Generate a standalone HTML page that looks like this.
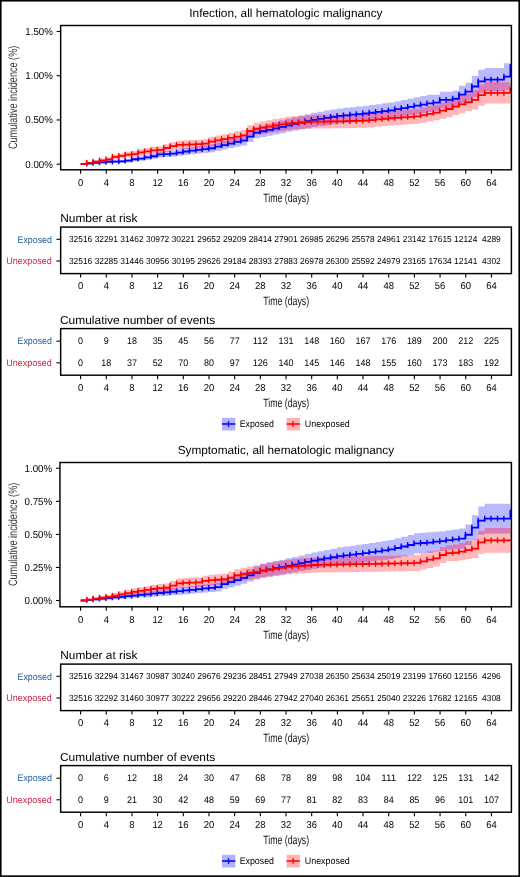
<!DOCTYPE html>
<html><head><meta charset="utf-8"><style>
html,body{margin:0;padding:0;background:#fff;}
svg{display:block;will-change:transform;}
text{font-family:"Liberation Sans", sans-serif;text-rendering:geometricPrecision;}
</style></head><body>
<svg width="520" height="877" viewBox="0 0 520 877">
<defs><clipPath id="c0"><rect x="60.65" y="25.5" width="450.75" height="144.3"/></clipPath>
<clipPath id="c1"><rect x="60.65" y="462.5" width="450.75" height="144.3"/></clipPath></defs>
<rect x="0" y="0" width="520" height="877" fill="#fff"/>
<rect x="0.8" y="0.75" width="518.4" height="875.4" fill="none" stroke="#000" stroke-width="1.6"/>
<text x="285.9" y="17.3" font-size="11.7" text-anchor="middle" textLength="193.2" lengthAdjust="spacingAndGlyphs" fill="#000">Infection, all hematologic malignancy</text>
<text x="0" y="0" font-size="12.2" text-anchor="middle" fill="#333" transform="translate(17.2,97.4) rotate(-90)" textLength="103.4" lengthAdjust="spacingAndGlyphs">Cumulative incidence (%)</text>
<g clip-path="url(#c0)"><clipPath id="bb0"><path d="M80.60,164.20H86.70V162.88H93.12V161.97H99.54V161.13H105.96V160.31H112.37V160.04H118.79V159.77H125.21V158.89H131.63V157.16H138.05V156.43H144.47V154.99H150.89V153.57H157.31V151.45H163.73V151.02H170.15V150.60H176.56V149.34H182.98V148.08H189.40V147.15H195.82V146.22H202.24V145.29H208.66V144.35H215.08V142.58H221.50V140.80H227.92V139.03H234.34V137.25H240.75V135.76H247.17V131.32H253.59V126.88H260.01V125.38H266.43V123.75H272.85V122.11H279.27V120.47H285.69V118.82H292.11V117.33H298.53V115.83H304.94V114.32H311.36V112.80H317.78V111.72H324.20V110.62H330.62V109.52H337.04V108.41H343.46V107.77H349.88V107.13H356.30V106.48H362.72V105.83H369.13V104.99H375.55V104.14H381.97V103.29H388.39V102.44H394.81V101.18H401.23V99.91H407.65V98.60H414.07V97.28H420.49V96.10H426.91V94.85H433.32V94.75H439.74V91.83H446.16V91.83H452.58V90.77H459.00V85.73H465.42V82.81H471.84V75.91H478.26V69.80H484.68V68.12H491.10V68.12H497.51V68.12H503.93V63.34H510.35V62.46H512.60V67.77H510.35V89.89H503.93V91.12H497.51V91.12H491.10V91.12H484.68V92.80H478.26V97.14H471.84V100.50H465.42V103.42H459.00V106.69H452.58V107.76H446.16V107.76H439.74V110.68H433.32V111.95H426.91V112.99H420.49V113.97H414.07V115.09H407.65V116.19H401.23V117.27H394.81V118.32H388.39V119.05H381.97V119.77H375.55V120.48H369.13V121.19H362.72V121.74H356.30V122.28H349.88V122.83H343.46V123.36H337.04V124.26H330.62V125.14H324.20V126.02H317.78V126.90H311.36V128.14H304.94V129.37H298.53V130.59H292.11V131.80H285.69V133.14H279.27V134.47H272.85V135.80H266.43V137.12H260.01V138.33H253.59V141.95H247.17V145.52H240.75V146.69H234.34V148.08H227.92V149.46H221.50V150.83H215.08V152.18H208.66V152.88H202.24V153.58H195.82V154.26H189.40V154.95H182.98V155.87H176.56V156.79H170.15V157.08H163.73V157.38H157.31V158.89H150.89V159.87H144.47V160.83H138.05V161.30H131.63V162.38H125.21V162.88H118.79V163.03H112.37V163.17H105.96V163.59H99.54V163.97H93.12V164.20H86.70V164.20H80.60Z"/></clipPath>
<path d="M80.60,164.20H86.70V162.88H93.12V161.97H99.54V161.13H105.96V160.31H112.37V160.04H118.79V159.77H125.21V158.89H131.63V157.16H138.05V156.43H144.47V154.99H150.89V153.57H157.31V151.45H163.73V151.02H170.15V150.60H176.56V149.34H182.98V148.08H189.40V147.15H195.82V146.22H202.24V145.29H208.66V144.35H215.08V142.58H221.50V140.80H227.92V139.03H234.34V137.25H240.75V135.76H247.17V131.32H253.59V126.88H260.01V125.38H266.43V123.75H272.85V122.11H279.27V120.47H285.69V118.82H292.11V117.33H298.53V115.83H304.94V114.32H311.36V112.80H317.78V111.72H324.20V110.62H330.62V109.52H337.04V108.41H343.46V107.77H349.88V107.13H356.30V106.48H362.72V105.83H369.13V104.99H375.55V104.14H381.97V103.29H388.39V102.44H394.81V101.18H401.23V99.91H407.65V98.60H414.07V97.28H420.49V96.10H426.91V94.85H433.32V94.75H439.74V91.83H446.16V91.83H452.58V90.77H459.00V85.73H465.42V82.81H471.84V75.91H478.26V69.80H484.68V68.12H491.10V68.12H497.51V68.12H503.93V63.34H510.35V62.46H512.60V67.77H510.35V89.89H503.93V91.12H497.51V91.12H491.10V91.12H484.68V92.80H478.26V97.14H471.84V100.50H465.42V103.42H459.00V106.69H452.58V107.76H446.16V107.76H439.74V110.68H433.32V111.95H426.91V112.99H420.49V113.97H414.07V115.09H407.65V116.19H401.23V117.27H394.81V118.32H388.39V119.05H381.97V119.77H375.55V120.48H369.13V121.19H362.72V121.74H356.30V122.28H349.88V122.83H343.46V123.36H337.04V124.26H330.62V125.14H324.20V126.02H317.78V126.90H311.36V128.14H304.94V129.37H298.53V130.59H292.11V131.80H285.69V133.14H279.27V134.47H272.85V135.80H266.43V137.12H260.01V138.33H253.59V141.95H247.17V145.52H240.75V146.69H234.34V148.08H227.92V149.46H221.50V150.83H215.08V152.18H208.66V152.88H202.24V153.58H195.82V154.26H189.40V154.95H182.98V155.87H176.56V156.79H170.15V157.08H163.73V157.38H157.31V158.89H150.89V159.87H144.47V160.83H138.05V161.30H131.63V162.38H125.21V162.88H118.79V163.03H112.37V163.17H105.96V163.59H99.54V163.97H93.12V164.20H86.70V164.20H80.60Z" fill="rgb(185,185,254)"/>
<path d="M80.60,164.20H86.70V161.98H93.12V160.33H99.54V158.78H105.96V157.27H112.37V154.50H118.79V153.14H125.21V151.77H131.63V151.08H138.05V149.26H144.47V148.04H150.89V146.83H157.31V146.21H163.73V144.18H170.15V142.14H176.56V140.78H182.98V140.36H189.40V140.03H195.82V139.70H202.24V139.15H208.66V137.01H215.08V135.59H221.50V134.17H227.92V132.74H234.34V131.31H240.75V130.09H247.17V125.22H253.59V122.77H260.01V121.53H266.43V120.33H272.85V119.12H279.27V117.90H285.69V116.68H292.11V116.23H298.53V115.78H304.94V115.32H311.36V114.85H317.78V114.74H324.20V114.63H330.62V114.52H337.04V114.41H343.46V114.22H349.88V114.04H356.30V113.85H362.72V113.67H369.13V113.01H375.55V112.34H381.97V111.67H388.39V111.00H394.81V110.52H401.23V110.02H407.65V109.52H414.07V109.00H420.49V107.60H426.91V106.10H433.32V104.70H439.74V102.66H446.16V100.82H452.58V98.34H459.00V95.55H465.42V93.42H471.84V90.06H478.26V84.58H484.68V82.28H491.10V82.28H497.51V82.28H503.93V82.28H510.35V85.46H512.60V90.77H510.35V103.51H503.93V103.51H497.51V103.51H491.10V103.51H484.68V105.81H478.26V109.53H471.84V111.12H465.42V113.24H459.00V115.05H452.58V117.17H446.16V118.69H439.74V120.37H433.32V121.45H426.91V122.67H420.49V123.81H414.07V124.24H407.65V124.65H401.23V125.06H394.81V125.47H388.39V126.03H381.97V126.58H375.55V127.13H369.13V127.68H362.72V127.83H356.30V127.99H349.88V128.14H343.46V128.29H337.04V128.35H330.62V128.40H324.20V128.46H317.78V128.51H311.36V128.86H304.94V129.21H298.53V129.55H292.11V129.89H285.69V130.88H279.27V131.86H272.85V132.83H266.43V133.81H260.01V134.81H253.59V136.81H247.17V140.80H240.75V141.77H234.34V142.91H227.92V144.04H221.50V145.16H215.08V146.28H208.66V147.97H202.24V148.38H195.82V148.62H189.40V148.86H182.98V149.17H176.56V150.23H170.15V151.81H163.73V153.37H157.31V153.82H150.89V154.74H144.47V155.64H138.05V156.99H131.63V157.48H125.21V158.46H118.79V159.43H112.37V161.31H105.96V162.26H99.54V163.16H93.12V163.97H86.70V164.20H80.60Z" fill="rgb(255,183,183)"/>
<path d="M80.60,164.20H86.70V161.98H93.12V160.33H99.54V158.78H105.96V157.27H112.37V154.50H118.79V153.14H125.21V151.77H131.63V151.08H138.05V149.26H144.47V148.04H150.89V146.83H157.31V146.21H163.73V144.18H170.15V142.14H176.56V140.78H182.98V140.36H189.40V140.03H195.82V139.70H202.24V139.15H208.66V137.01H215.08V135.59H221.50V134.17H227.92V132.74H234.34V131.31H240.75V130.09H247.17V125.22H253.59V122.77H260.01V121.53H266.43V120.33H272.85V119.12H279.27V117.90H285.69V116.68H292.11V116.23H298.53V115.78H304.94V115.32H311.36V114.85H317.78V114.74H324.20V114.63H330.62V114.52H337.04V114.41H343.46V114.22H349.88V114.04H356.30V113.85H362.72V113.67H369.13V113.01H375.55V112.34H381.97V111.67H388.39V111.00H394.81V110.52H401.23V110.02H407.65V109.52H414.07V109.00H420.49V107.60H426.91V106.10H433.32V104.70H439.74V102.66H446.16V100.82H452.58V98.34H459.00V95.55H465.42V93.42H471.84V90.06H478.26V84.58H484.68V82.28H491.10V82.28H497.51V82.28H503.93V82.28H510.35V85.46H512.60V90.77H510.35V103.51H503.93V103.51H497.51V103.51H491.10V103.51H484.68V105.81H478.26V109.53H471.84V111.12H465.42V113.24H459.00V115.05H452.58V117.17H446.16V118.69H439.74V120.37H433.32V121.45H426.91V122.67H420.49V123.81H414.07V124.24H407.65V124.65H401.23V125.06H394.81V125.47H388.39V126.03H381.97V126.58H375.55V127.13H369.13V127.68H362.72V127.83H356.30V127.99H349.88V128.14H343.46V128.29H337.04V128.35H330.62V128.40H324.20V128.46H317.78V128.51H311.36V128.86H304.94V129.21H298.53V129.55H292.11V129.89H285.69V130.88H279.27V131.86H272.85V132.83H266.43V133.81H260.01V134.81H253.59V136.81H247.17V140.80H240.75V141.77H234.34V142.91H227.92V144.04H221.50V145.16H215.08V146.28H208.66V147.97H202.24V148.38H195.82V148.62H189.40V148.86H182.98V149.17H176.56V150.23H170.15V151.81H163.73V153.37H157.31V153.82H150.89V154.74H144.47V155.64H138.05V156.99H131.63V157.48H125.21V158.46H118.79V159.43H112.37V161.31H105.96V162.26H99.54V163.16H93.12V163.97H86.70V164.20H80.60Z" fill="rgb(214,124,187)" clip-path="url(#bb0)"/>
<path d="M80.60,164.20H86.70V163.59H93.12V162.97H99.54V162.36H105.96V161.74H112.37V161.54H118.79V161.33H125.21V160.63H131.63V159.23H138.05V158.63H144.47V157.43H150.89V156.23H157.31V154.41H163.73V154.05H170.15V153.69H176.56V152.61H182.98V151.51H189.40V150.71H195.82V149.90H202.24V149.09H208.66V148.27H215.08V146.70H221.50V145.13H227.92V143.55H234.34V141.97H240.75V140.64H247.17V136.64H253.59V132.61H260.01V131.25H266.43V129.78H272.85V128.29H279.27V126.80H285.69V125.31H292.11V123.96H298.53V122.60H304.94V121.23H311.36V119.85H317.78V118.87H324.20V117.88H330.62V116.89H337.04V115.89H343.46V115.30H349.88V114.71H356.30V114.11H362.72V113.51H369.13V112.74H375.55V111.95H381.97V111.17H388.39V110.38H394.81V109.22H401.23V108.05H407.65V106.85H414.07V105.63H420.49V104.55H426.91V103.40H433.32V102.71H439.74V99.79H446.16V99.79H452.58V98.73H459.00V94.57H465.42V91.65H471.84V86.52H478.26V81.30H484.68V79.62H491.10V79.62H497.51V79.62H503.93V76.61H510.35V65.11H512.60" fill="none" stroke="#0000ff" stroke-width="1.8"/>
<path d="M86.70,160.69v5.8M93.12,160.07v5.8M99.54,159.46v5.8M105.96,158.84v5.8M112.37,158.64v5.8M118.79,158.43v5.8M125.21,157.73v5.8M131.63,156.33v5.8M138.05,155.73v5.8M144.47,154.53v5.8M150.89,153.33v5.8M157.31,151.51v5.8M163.73,151.15v5.8M170.15,150.79v5.8M176.56,149.71v5.8M182.98,148.61v5.8M189.40,147.81v5.8M195.82,147.00v5.8M202.24,146.19v5.8M208.66,145.37v5.8M215.08,143.80v5.8M221.50,142.23v5.8M227.92,140.65v5.8M234.34,139.07v5.8M240.75,137.74v5.8M247.17,133.74v5.8M253.59,129.71v5.8M260.01,128.35v5.8M266.43,126.88v5.8M272.85,125.39v5.8M279.27,123.90v5.8M285.69,122.41v5.8M292.11,121.06v5.8M298.53,119.70v5.8M304.94,118.33v5.8M311.36,116.95v5.8M317.78,115.97v5.8M324.20,114.98v5.8M330.62,113.99v5.8M337.04,112.99v5.8M343.46,112.40v5.8M349.88,111.81v5.8M356.30,111.21v5.8M362.72,110.61v5.8M369.13,109.84v5.8M375.55,109.05v5.8M381.97,108.27v5.8M388.39,107.48v5.8M394.81,106.32v5.8M401.23,105.15v5.8M407.65,103.95v5.8M414.07,102.73v5.8M420.49,101.65v5.8M426.91,100.50v5.8M433.32,99.81v5.8M439.74,96.89v5.8M446.16,96.89v5.8M452.58,95.83v5.8M459.00,91.67v5.8M465.42,88.75v5.8M471.84,83.62v5.8M478.26,78.40v5.8M484.68,76.72v5.8M491.10,76.72v5.8M497.51,76.72v5.8M503.93,73.71v5.8" fill="none" stroke="#0000ff" stroke-width="1.4"/>
<path d="M80.60,164.20H86.70V162.97H93.12V161.75H99.54V160.52H105.96V159.29H112.37V156.97H118.79V155.80H125.21V154.62H131.63V154.03H138.05V152.45H144.47V151.39H150.89V150.32H157.31V149.79H163.73V147.99H170.15V146.19H176.56V144.97H182.98V144.61H189.40V144.32H195.82V144.04H202.24V143.56H208.66V141.64H215.08V140.38H221.50V139.10H227.92V137.83H234.34V136.54H240.75V135.44H247.17V131.02H253.59V128.79H260.01V127.67H266.43V126.58H272.85V125.49H279.27V124.39H285.69V123.29H292.11V122.89H298.53V122.49H304.94V122.09H311.36V121.68H317.78V121.60H324.20V121.52H330.62V121.43H337.04V121.35H343.46V121.18H349.88V121.01H356.30V120.84H362.72V120.67H369.13V120.07H375.55V119.46H381.97V118.85H388.39V118.24H394.81V117.79H401.23V117.34H407.65V116.88H414.07V116.41H420.49V115.13H426.91V113.78H433.32V112.53H439.74V110.68H446.16V108.99H452.58V106.69H459.00V104.39H465.42V102.27H471.84V99.79H478.26V95.19H484.68V92.89H491.10V92.89H497.51V92.89H503.93V92.89H510.35V88.12H512.60" fill="none" stroke="#ff0000" stroke-width="1.8"/>
<path d="M86.70,160.07v5.8M93.12,158.85v5.8M99.54,157.62v5.8M105.96,156.39v5.8M112.37,154.07v5.8M118.79,152.90v5.8M125.21,151.72v5.8M131.63,151.13v5.8M138.05,149.55v5.8M144.47,148.49v5.8M150.89,147.42v5.8M157.31,146.89v5.8M163.73,145.09v5.8M170.15,143.29v5.8M176.56,142.07v5.8M182.98,141.71v5.8M189.40,141.42v5.8M195.82,141.14v5.8M202.24,140.66v5.8M208.66,138.74v5.8M215.08,137.48v5.8M221.50,136.20v5.8M227.92,134.93v5.8M234.34,133.64v5.8M240.75,132.54v5.8M247.17,128.12v5.8M253.59,125.89v5.8M260.01,124.77v5.8M266.43,123.68v5.8M272.85,122.59v5.8M279.27,121.49v5.8M285.69,120.39v5.8M292.11,119.99v5.8M298.53,119.59v5.8M304.94,119.19v5.8M311.36,118.78v5.8M317.78,118.70v5.8M324.20,118.62v5.8M330.62,118.53v5.8M337.04,118.45v5.8M343.46,118.28v5.8M349.88,118.11v5.8M356.30,117.94v5.8M362.72,117.77v5.8M369.13,117.17v5.8M375.55,116.56v5.8M381.97,115.95v5.8M388.39,115.34v5.8M394.81,114.89v5.8M401.23,114.44v5.8M407.65,113.98v5.8M414.07,113.51v5.8M420.49,112.23v5.8M426.91,110.88v5.8M433.32,109.63v5.8M439.74,107.78v5.8M446.16,106.09v5.8M452.58,103.79v5.8M459.00,101.49v5.8M465.42,99.37v5.8M471.84,96.89v5.8M478.26,92.29v5.8M484.68,89.99v5.8M491.10,89.99v5.8M497.51,89.99v5.8M503.93,89.99v5.8" fill="none" stroke="#ff0000" stroke-width="1.4"/>
</g><rect x="60.65" y="25.5" width="450.75" height="144.3" fill="none" stroke="#000" stroke-width="1.45"/>
<line x1="56.60" x2="60.05" y1="164.20" y2="164.20" stroke="#000" stroke-width="1.1"/>
<text x="52.9" y="167.70" font-size="10.2" text-anchor="end" textLength="27.6" lengthAdjust="spacingAndGlyphs" fill="#000">0.00%</text>
<line x1="56.60" x2="60.05" y1="119.96" y2="119.96" stroke="#000" stroke-width="1.1"/>
<text x="52.9" y="123.46" font-size="10.2" text-anchor="end" textLength="27.6" lengthAdjust="spacingAndGlyphs" fill="#000">0.50%</text>
<line x1="56.60" x2="60.05" y1="75.73" y2="75.73" stroke="#000" stroke-width="1.1"/>
<text x="52.9" y="79.23" font-size="10.2" text-anchor="end" textLength="27.6" lengthAdjust="spacingAndGlyphs" fill="#000">1.00%</text>
<line x1="56.60" x2="60.05" y1="31.50" y2="31.50" stroke="#000" stroke-width="1.1"/>
<text x="52.9" y="35.00" font-size="10.2" text-anchor="end" textLength="27.6" lengthAdjust="spacingAndGlyphs" fill="#000">1.50%</text>
<line x1="80.60" x2="80.60" y1="169.8" y2="173.8" stroke="#000" stroke-width="1.1"/>
<text x="80.60" y="185.6" font-size="10.0" text-anchor="middle" textLength="5.25" lengthAdjust="spacingAndGlyphs" fill="#000">0</text>
<line x1="106.28" x2="106.28" y1="169.8" y2="173.8" stroke="#000" stroke-width="1.1"/>
<text x="106.28" y="185.6" font-size="10.0" text-anchor="middle" textLength="5.25" lengthAdjust="spacingAndGlyphs" fill="#000">4</text>
<line x1="131.95" x2="131.95" y1="169.8" y2="173.8" stroke="#000" stroke-width="1.1"/>
<text x="131.95" y="185.6" font-size="10.0" text-anchor="middle" textLength="5.25" lengthAdjust="spacingAndGlyphs" fill="#000">8</text>
<line x1="157.63" x2="157.63" y1="169.8" y2="173.8" stroke="#000" stroke-width="1.1"/>
<text x="157.63" y="185.6" font-size="10.0" text-anchor="middle" textLength="10.5" lengthAdjust="spacingAndGlyphs" fill="#000">12</text>
<line x1="183.30" x2="183.30" y1="169.8" y2="173.8" stroke="#000" stroke-width="1.1"/>
<text x="183.30" y="185.6" font-size="10.0" text-anchor="middle" textLength="10.5" lengthAdjust="spacingAndGlyphs" fill="#000">16</text>
<line x1="208.98" x2="208.98" y1="169.8" y2="173.8" stroke="#000" stroke-width="1.1"/>
<text x="208.98" y="185.6" font-size="10.0" text-anchor="middle" textLength="10.5" lengthAdjust="spacingAndGlyphs" fill="#000">20</text>
<line x1="234.66" x2="234.66" y1="169.8" y2="173.8" stroke="#000" stroke-width="1.1"/>
<text x="234.66" y="185.6" font-size="10.0" text-anchor="middle" textLength="10.5" lengthAdjust="spacingAndGlyphs" fill="#000">24</text>
<line x1="260.33" x2="260.33" y1="169.8" y2="173.8" stroke="#000" stroke-width="1.1"/>
<text x="260.33" y="185.6" font-size="10.0" text-anchor="middle" textLength="10.5" lengthAdjust="spacingAndGlyphs" fill="#000">28</text>
<line x1="286.01" x2="286.01" y1="169.8" y2="173.8" stroke="#000" stroke-width="1.1"/>
<text x="286.01" y="185.6" font-size="10.0" text-anchor="middle" textLength="10.5" lengthAdjust="spacingAndGlyphs" fill="#000">32</text>
<line x1="311.68" x2="311.68" y1="169.8" y2="173.8" stroke="#000" stroke-width="1.1"/>
<text x="311.68" y="185.6" font-size="10.0" text-anchor="middle" textLength="10.5" lengthAdjust="spacingAndGlyphs" fill="#000">36</text>
<line x1="337.36" x2="337.36" y1="169.8" y2="173.8" stroke="#000" stroke-width="1.1"/>
<text x="337.36" y="185.6" font-size="10.0" text-anchor="middle" textLength="10.5" lengthAdjust="spacingAndGlyphs" fill="#000">40</text>
<line x1="363.04" x2="363.04" y1="169.8" y2="173.8" stroke="#000" stroke-width="1.1"/>
<text x="363.04" y="185.6" font-size="10.0" text-anchor="middle" textLength="10.5" lengthAdjust="spacingAndGlyphs" fill="#000">44</text>
<line x1="388.71" x2="388.71" y1="169.8" y2="173.8" stroke="#000" stroke-width="1.1"/>
<text x="388.71" y="185.6" font-size="10.0" text-anchor="middle" textLength="10.5" lengthAdjust="spacingAndGlyphs" fill="#000">48</text>
<line x1="414.39" x2="414.39" y1="169.8" y2="173.8" stroke="#000" stroke-width="1.1"/>
<text x="414.39" y="185.6" font-size="10.0" text-anchor="middle" textLength="10.5" lengthAdjust="spacingAndGlyphs" fill="#000">52</text>
<line x1="440.06" x2="440.06" y1="169.8" y2="173.8" stroke="#000" stroke-width="1.1"/>
<text x="440.06" y="185.6" font-size="10.0" text-anchor="middle" textLength="10.5" lengthAdjust="spacingAndGlyphs" fill="#000">56</text>
<line x1="465.74" x2="465.74" y1="169.8" y2="173.8" stroke="#000" stroke-width="1.1"/>
<text x="465.74" y="185.6" font-size="10.0" text-anchor="middle" textLength="10.5" lengthAdjust="spacingAndGlyphs" fill="#000">60</text>
<line x1="491.42" x2="491.42" y1="169.8" y2="173.8" stroke="#000" stroke-width="1.1"/>
<text x="491.42" y="185.6" font-size="10.0" text-anchor="middle" textLength="10.5" lengthAdjust="spacingAndGlyphs" fill="#000">64</text>
<text x="286.2" y="201.8" font-size="12.0" text-anchor="middle" textLength="46" lengthAdjust="spacingAndGlyphs" fill="#111">Time (days)</text>
<text x="60.3" y="221.8" font-size="11.6" textLength="77.2" lengthAdjust="spacingAndGlyphs" fill="#000">Number at risk</text>
<rect x="60.65" y="227.1" width="450.75" height="46.50000000000003" fill="none" stroke="#000" stroke-width="1.45"/>
<line x1="56.4" x2="60" y1="239.3" y2="239.3" stroke="#000" stroke-width="1.1"/>
<line x1="56.4" x2="60" y1="261.0" y2="261.0" stroke="#000" stroke-width="1.1"/>
<text x="51.9" y="242.5" font-size="9.6" text-anchor="end" textLength="34.4" lengthAdjust="spacingAndGlyphs" fill="#1d5b98">Exposed</text>
<text x="51.9" y="264.2" font-size="9.6" text-anchor="end" textLength="45.6" lengthAdjust="spacingAndGlyphs" fill="#cf1f45">Unexposed</text>
<text x="80.60" y="242.3" font-size="8.7" text-anchor="middle" textLength="23.3" lengthAdjust="spacingAndGlyphs" fill="#000">32516</text>
<text x="80.60" y="264.0" font-size="8.7" text-anchor="middle" textLength="23.3" lengthAdjust="spacingAndGlyphs" fill="#000">32516</text>
<text x="106.28" y="242.3" font-size="8.7" text-anchor="middle" textLength="23.3" lengthAdjust="spacingAndGlyphs" fill="#000">32291</text>
<text x="106.28" y="264.0" font-size="8.7" text-anchor="middle" textLength="23.3" lengthAdjust="spacingAndGlyphs" fill="#000">32285</text>
<text x="131.95" y="242.3" font-size="8.7" text-anchor="middle" textLength="23.3" lengthAdjust="spacingAndGlyphs" fill="#000">31462</text>
<text x="131.95" y="264.0" font-size="8.7" text-anchor="middle" textLength="23.3" lengthAdjust="spacingAndGlyphs" fill="#000">31446</text>
<text x="157.63" y="242.3" font-size="8.7" text-anchor="middle" textLength="23.3" lengthAdjust="spacingAndGlyphs" fill="#000">30972</text>
<text x="157.63" y="264.0" font-size="8.7" text-anchor="middle" textLength="23.3" lengthAdjust="spacingAndGlyphs" fill="#000">30956</text>
<text x="183.30" y="242.3" font-size="8.7" text-anchor="middle" textLength="23.3" lengthAdjust="spacingAndGlyphs" fill="#000">30221</text>
<text x="183.30" y="264.0" font-size="8.7" text-anchor="middle" textLength="23.3" lengthAdjust="spacingAndGlyphs" fill="#000">30195</text>
<text x="208.98" y="242.3" font-size="8.7" text-anchor="middle" textLength="23.3" lengthAdjust="spacingAndGlyphs" fill="#000">29652</text>
<text x="208.98" y="264.0" font-size="8.7" text-anchor="middle" textLength="23.3" lengthAdjust="spacingAndGlyphs" fill="#000">29626</text>
<text x="234.66" y="242.3" font-size="8.7" text-anchor="middle" textLength="23.3" lengthAdjust="spacingAndGlyphs" fill="#000">29209</text>
<text x="234.66" y="264.0" font-size="8.7" text-anchor="middle" textLength="23.3" lengthAdjust="spacingAndGlyphs" fill="#000">29184</text>
<text x="260.33" y="242.3" font-size="8.7" text-anchor="middle" textLength="23.3" lengthAdjust="spacingAndGlyphs" fill="#000">28414</text>
<text x="260.33" y="264.0" font-size="8.7" text-anchor="middle" textLength="23.3" lengthAdjust="spacingAndGlyphs" fill="#000">28393</text>
<text x="286.01" y="242.3" font-size="8.7" text-anchor="middle" textLength="23.3" lengthAdjust="spacingAndGlyphs" fill="#000">27901</text>
<text x="286.01" y="264.0" font-size="8.7" text-anchor="middle" textLength="23.3" lengthAdjust="spacingAndGlyphs" fill="#000">27883</text>
<text x="311.68" y="242.3" font-size="8.7" text-anchor="middle" textLength="23.3" lengthAdjust="spacingAndGlyphs" fill="#000">26985</text>
<text x="311.68" y="264.0" font-size="8.7" text-anchor="middle" textLength="23.3" lengthAdjust="spacingAndGlyphs" fill="#000">26978</text>
<text x="337.36" y="242.3" font-size="8.7" text-anchor="middle" textLength="23.3" lengthAdjust="spacingAndGlyphs" fill="#000">26296</text>
<text x="337.36" y="264.0" font-size="8.7" text-anchor="middle" textLength="23.3" lengthAdjust="spacingAndGlyphs" fill="#000">26300</text>
<text x="363.04" y="242.3" font-size="8.7" text-anchor="middle" textLength="23.3" lengthAdjust="spacingAndGlyphs" fill="#000">25578</text>
<text x="363.04" y="264.0" font-size="8.7" text-anchor="middle" textLength="23.3" lengthAdjust="spacingAndGlyphs" fill="#000">25592</text>
<text x="388.71" y="242.3" font-size="8.7" text-anchor="middle" textLength="23.3" lengthAdjust="spacingAndGlyphs" fill="#000">24961</text>
<text x="388.71" y="264.0" font-size="8.7" text-anchor="middle" textLength="23.3" lengthAdjust="spacingAndGlyphs" fill="#000">24979</text>
<text x="414.39" y="242.3" font-size="8.7" text-anchor="middle" textLength="23.3" lengthAdjust="spacingAndGlyphs" fill="#000">23142</text>
<text x="414.39" y="264.0" font-size="8.7" text-anchor="middle" textLength="23.3" lengthAdjust="spacingAndGlyphs" fill="#000">23165</text>
<text x="440.06" y="242.3" font-size="8.7" text-anchor="middle" textLength="23.3" lengthAdjust="spacingAndGlyphs" fill="#000">17615</text>
<text x="440.06" y="264.0" font-size="8.7" text-anchor="middle" textLength="23.3" lengthAdjust="spacingAndGlyphs" fill="#000">17634</text>
<text x="465.74" y="242.3" font-size="8.7" text-anchor="middle" textLength="23.3" lengthAdjust="spacingAndGlyphs" fill="#000">12124</text>
<text x="465.74" y="264.0" font-size="8.7" text-anchor="middle" textLength="23.3" lengthAdjust="spacingAndGlyphs" fill="#000">12141</text>
<text x="491.42" y="242.3" font-size="8.7" text-anchor="middle" textLength="18.64" lengthAdjust="spacingAndGlyphs" fill="#000">4289</text>
<text x="491.42" y="264.0" font-size="8.7" text-anchor="middle" textLength="18.64" lengthAdjust="spacingAndGlyphs" fill="#000">4302</text>
<line x1="80.60" x2="80.60" y1="273.6" y2="277.6" stroke="#000" stroke-width="1.1"/>
<text x="80.60" y="289.3" font-size="10.0" text-anchor="middle" textLength="5.25" lengthAdjust="spacingAndGlyphs" fill="#000">0</text>
<line x1="106.28" x2="106.28" y1="273.6" y2="277.6" stroke="#000" stroke-width="1.1"/>
<text x="106.28" y="289.3" font-size="10.0" text-anchor="middle" textLength="5.25" lengthAdjust="spacingAndGlyphs" fill="#000">4</text>
<line x1="131.95" x2="131.95" y1="273.6" y2="277.6" stroke="#000" stroke-width="1.1"/>
<text x="131.95" y="289.3" font-size="10.0" text-anchor="middle" textLength="5.25" lengthAdjust="spacingAndGlyphs" fill="#000">8</text>
<line x1="157.63" x2="157.63" y1="273.6" y2="277.6" stroke="#000" stroke-width="1.1"/>
<text x="157.63" y="289.3" font-size="10.0" text-anchor="middle" textLength="10.5" lengthAdjust="spacingAndGlyphs" fill="#000">12</text>
<line x1="183.30" x2="183.30" y1="273.6" y2="277.6" stroke="#000" stroke-width="1.1"/>
<text x="183.30" y="289.3" font-size="10.0" text-anchor="middle" textLength="10.5" lengthAdjust="spacingAndGlyphs" fill="#000">16</text>
<line x1="208.98" x2="208.98" y1="273.6" y2="277.6" stroke="#000" stroke-width="1.1"/>
<text x="208.98" y="289.3" font-size="10.0" text-anchor="middle" textLength="10.5" lengthAdjust="spacingAndGlyphs" fill="#000">20</text>
<line x1="234.66" x2="234.66" y1="273.6" y2="277.6" stroke="#000" stroke-width="1.1"/>
<text x="234.66" y="289.3" font-size="10.0" text-anchor="middle" textLength="10.5" lengthAdjust="spacingAndGlyphs" fill="#000">24</text>
<line x1="260.33" x2="260.33" y1="273.6" y2="277.6" stroke="#000" stroke-width="1.1"/>
<text x="260.33" y="289.3" font-size="10.0" text-anchor="middle" textLength="10.5" lengthAdjust="spacingAndGlyphs" fill="#000">28</text>
<line x1="286.01" x2="286.01" y1="273.6" y2="277.6" stroke="#000" stroke-width="1.1"/>
<text x="286.01" y="289.3" font-size="10.0" text-anchor="middle" textLength="10.5" lengthAdjust="spacingAndGlyphs" fill="#000">32</text>
<line x1="311.68" x2="311.68" y1="273.6" y2="277.6" stroke="#000" stroke-width="1.1"/>
<text x="311.68" y="289.3" font-size="10.0" text-anchor="middle" textLength="10.5" lengthAdjust="spacingAndGlyphs" fill="#000">36</text>
<line x1="337.36" x2="337.36" y1="273.6" y2="277.6" stroke="#000" stroke-width="1.1"/>
<text x="337.36" y="289.3" font-size="10.0" text-anchor="middle" textLength="10.5" lengthAdjust="spacingAndGlyphs" fill="#000">40</text>
<line x1="363.04" x2="363.04" y1="273.6" y2="277.6" stroke="#000" stroke-width="1.1"/>
<text x="363.04" y="289.3" font-size="10.0" text-anchor="middle" textLength="10.5" lengthAdjust="spacingAndGlyphs" fill="#000">44</text>
<line x1="388.71" x2="388.71" y1="273.6" y2="277.6" stroke="#000" stroke-width="1.1"/>
<text x="388.71" y="289.3" font-size="10.0" text-anchor="middle" textLength="10.5" lengthAdjust="spacingAndGlyphs" fill="#000">48</text>
<line x1="414.39" x2="414.39" y1="273.6" y2="277.6" stroke="#000" stroke-width="1.1"/>
<text x="414.39" y="289.3" font-size="10.0" text-anchor="middle" textLength="10.5" lengthAdjust="spacingAndGlyphs" fill="#000">52</text>
<line x1="440.06" x2="440.06" y1="273.6" y2="277.6" stroke="#000" stroke-width="1.1"/>
<text x="440.06" y="289.3" font-size="10.0" text-anchor="middle" textLength="10.5" lengthAdjust="spacingAndGlyphs" fill="#000">56</text>
<line x1="465.74" x2="465.74" y1="273.6" y2="277.6" stroke="#000" stroke-width="1.1"/>
<text x="465.74" y="289.3" font-size="10.0" text-anchor="middle" textLength="10.5" lengthAdjust="spacingAndGlyphs" fill="#000">60</text>
<line x1="491.42" x2="491.42" y1="273.6" y2="277.6" stroke="#000" stroke-width="1.1"/>
<text x="491.42" y="289.3" font-size="10.0" text-anchor="middle" textLength="10.5" lengthAdjust="spacingAndGlyphs" fill="#000">64</text>
<text x="286.2" y="305.0" font-size="12.0" text-anchor="middle" textLength="46" lengthAdjust="spacingAndGlyphs" fill="#111">Time (days)</text>
<text x="60.0" y="323.7" font-size="11.6" textLength="155.3" lengthAdjust="spacingAndGlyphs" fill="#000">Cumulative number of events</text>
<rect x="60.65" y="328.6" width="450.75" height="46.599999999999966" fill="none" stroke="#000" stroke-width="1.45"/>
<line x1="56.4" x2="60" y1="341.2" y2="341.2" stroke="#000" stroke-width="1.1"/>
<line x1="56.4" x2="60" y1="362.8" y2="362.8" stroke="#000" stroke-width="1.1"/>
<text x="51.9" y="344.4" font-size="9.6" text-anchor="end" textLength="34.4" lengthAdjust="spacingAndGlyphs" fill="#1d5b98">Exposed</text>
<text x="51.9" y="366.0" font-size="9.6" text-anchor="end" textLength="45.6" lengthAdjust="spacingAndGlyphs" fill="#cf1f45">Unexposed</text>
<text x="80.60" y="343.9" font-size="9.5" text-anchor="middle" textLength="5.0" lengthAdjust="spacingAndGlyphs" fill="#000">0</text>
<text x="80.60" y="365.5" font-size="9.5" text-anchor="middle" textLength="5.0" lengthAdjust="spacingAndGlyphs" fill="#000">0</text>
<text x="106.28" y="343.9" font-size="9.5" text-anchor="middle" textLength="5.0" lengthAdjust="spacingAndGlyphs" fill="#000">9</text>
<text x="106.28" y="365.5" font-size="9.5" text-anchor="middle" textLength="10.0" lengthAdjust="spacingAndGlyphs" fill="#000">18</text>
<text x="131.95" y="343.9" font-size="9.5" text-anchor="middle" textLength="10.0" lengthAdjust="spacingAndGlyphs" fill="#000">18</text>
<text x="131.95" y="365.5" font-size="9.5" text-anchor="middle" textLength="10.0" lengthAdjust="spacingAndGlyphs" fill="#000">37</text>
<text x="157.63" y="343.9" font-size="9.5" text-anchor="middle" textLength="10.0" lengthAdjust="spacingAndGlyphs" fill="#000">35</text>
<text x="157.63" y="365.5" font-size="9.5" text-anchor="middle" textLength="10.0" lengthAdjust="spacingAndGlyphs" fill="#000">52</text>
<text x="183.30" y="343.9" font-size="9.5" text-anchor="middle" textLength="10.0" lengthAdjust="spacingAndGlyphs" fill="#000">45</text>
<text x="183.30" y="365.5" font-size="9.5" text-anchor="middle" textLength="10.0" lengthAdjust="spacingAndGlyphs" fill="#000">70</text>
<text x="208.98" y="343.9" font-size="9.5" text-anchor="middle" textLength="10.0" lengthAdjust="spacingAndGlyphs" fill="#000">56</text>
<text x="208.98" y="365.5" font-size="9.5" text-anchor="middle" textLength="10.0" lengthAdjust="spacingAndGlyphs" fill="#000">80</text>
<text x="234.66" y="343.9" font-size="9.5" text-anchor="middle" textLength="10.0" lengthAdjust="spacingAndGlyphs" fill="#000">77</text>
<text x="234.66" y="365.5" font-size="9.5" text-anchor="middle" textLength="10.0" lengthAdjust="spacingAndGlyphs" fill="#000">97</text>
<text x="260.33" y="343.9" font-size="9.5" text-anchor="middle" textLength="15.0" lengthAdjust="spacingAndGlyphs" fill="#000">112</text>
<text x="260.33" y="365.5" font-size="9.5" text-anchor="middle" textLength="15.0" lengthAdjust="spacingAndGlyphs" fill="#000">126</text>
<text x="286.01" y="343.9" font-size="9.5" text-anchor="middle" textLength="15.0" lengthAdjust="spacingAndGlyphs" fill="#000">131</text>
<text x="286.01" y="365.5" font-size="9.5" text-anchor="middle" textLength="15.0" lengthAdjust="spacingAndGlyphs" fill="#000">140</text>
<text x="311.68" y="343.9" font-size="9.5" text-anchor="middle" textLength="15.0" lengthAdjust="spacingAndGlyphs" fill="#000">148</text>
<text x="311.68" y="365.5" font-size="9.5" text-anchor="middle" textLength="15.0" lengthAdjust="spacingAndGlyphs" fill="#000">145</text>
<text x="337.36" y="343.9" font-size="9.5" text-anchor="middle" textLength="15.0" lengthAdjust="spacingAndGlyphs" fill="#000">160</text>
<text x="337.36" y="365.5" font-size="9.5" text-anchor="middle" textLength="15.0" lengthAdjust="spacingAndGlyphs" fill="#000">146</text>
<text x="363.04" y="343.9" font-size="9.5" text-anchor="middle" textLength="15.0" lengthAdjust="spacingAndGlyphs" fill="#000">167</text>
<text x="363.04" y="365.5" font-size="9.5" text-anchor="middle" textLength="15.0" lengthAdjust="spacingAndGlyphs" fill="#000">148</text>
<text x="388.71" y="343.9" font-size="9.5" text-anchor="middle" textLength="15.0" lengthAdjust="spacingAndGlyphs" fill="#000">176</text>
<text x="388.71" y="365.5" font-size="9.5" text-anchor="middle" textLength="15.0" lengthAdjust="spacingAndGlyphs" fill="#000">155</text>
<text x="414.39" y="343.9" font-size="9.5" text-anchor="middle" textLength="15.0" lengthAdjust="spacingAndGlyphs" fill="#000">189</text>
<text x="414.39" y="365.5" font-size="9.5" text-anchor="middle" textLength="15.0" lengthAdjust="spacingAndGlyphs" fill="#000">160</text>
<text x="440.06" y="343.9" font-size="9.5" text-anchor="middle" textLength="15.0" lengthAdjust="spacingAndGlyphs" fill="#000">200</text>
<text x="440.06" y="365.5" font-size="9.5" text-anchor="middle" textLength="15.0" lengthAdjust="spacingAndGlyphs" fill="#000">173</text>
<text x="465.74" y="343.9" font-size="9.5" text-anchor="middle" textLength="15.0" lengthAdjust="spacingAndGlyphs" fill="#000">212</text>
<text x="465.74" y="365.5" font-size="9.5" text-anchor="middle" textLength="15.0" lengthAdjust="spacingAndGlyphs" fill="#000">183</text>
<text x="491.42" y="343.9" font-size="9.5" text-anchor="middle" textLength="15.0" lengthAdjust="spacingAndGlyphs" fill="#000">225</text>
<text x="491.42" y="365.5" font-size="9.5" text-anchor="middle" textLength="15.0" lengthAdjust="spacingAndGlyphs" fill="#000">192</text>
<line x1="80.60" x2="80.60" y1="375.2" y2="379.2" stroke="#000" stroke-width="1.1"/>
<text x="80.60" y="390.7" font-size="10.0" text-anchor="middle" textLength="5.25" lengthAdjust="spacingAndGlyphs" fill="#000">0</text>
<line x1="106.28" x2="106.28" y1="375.2" y2="379.2" stroke="#000" stroke-width="1.1"/>
<text x="106.28" y="390.7" font-size="10.0" text-anchor="middle" textLength="5.25" lengthAdjust="spacingAndGlyphs" fill="#000">4</text>
<line x1="131.95" x2="131.95" y1="375.2" y2="379.2" stroke="#000" stroke-width="1.1"/>
<text x="131.95" y="390.7" font-size="10.0" text-anchor="middle" textLength="5.25" lengthAdjust="spacingAndGlyphs" fill="#000">8</text>
<line x1="157.63" x2="157.63" y1="375.2" y2="379.2" stroke="#000" stroke-width="1.1"/>
<text x="157.63" y="390.7" font-size="10.0" text-anchor="middle" textLength="10.5" lengthAdjust="spacingAndGlyphs" fill="#000">12</text>
<line x1="183.30" x2="183.30" y1="375.2" y2="379.2" stroke="#000" stroke-width="1.1"/>
<text x="183.30" y="390.7" font-size="10.0" text-anchor="middle" textLength="10.5" lengthAdjust="spacingAndGlyphs" fill="#000">16</text>
<line x1="208.98" x2="208.98" y1="375.2" y2="379.2" stroke="#000" stroke-width="1.1"/>
<text x="208.98" y="390.7" font-size="10.0" text-anchor="middle" textLength="10.5" lengthAdjust="spacingAndGlyphs" fill="#000">20</text>
<line x1="234.66" x2="234.66" y1="375.2" y2="379.2" stroke="#000" stroke-width="1.1"/>
<text x="234.66" y="390.7" font-size="10.0" text-anchor="middle" textLength="10.5" lengthAdjust="spacingAndGlyphs" fill="#000">24</text>
<line x1="260.33" x2="260.33" y1="375.2" y2="379.2" stroke="#000" stroke-width="1.1"/>
<text x="260.33" y="390.7" font-size="10.0" text-anchor="middle" textLength="10.5" lengthAdjust="spacingAndGlyphs" fill="#000">28</text>
<line x1="286.01" x2="286.01" y1="375.2" y2="379.2" stroke="#000" stroke-width="1.1"/>
<text x="286.01" y="390.7" font-size="10.0" text-anchor="middle" textLength="10.5" lengthAdjust="spacingAndGlyphs" fill="#000">32</text>
<line x1="311.68" x2="311.68" y1="375.2" y2="379.2" stroke="#000" stroke-width="1.1"/>
<text x="311.68" y="390.7" font-size="10.0" text-anchor="middle" textLength="10.5" lengthAdjust="spacingAndGlyphs" fill="#000">36</text>
<line x1="337.36" x2="337.36" y1="375.2" y2="379.2" stroke="#000" stroke-width="1.1"/>
<text x="337.36" y="390.7" font-size="10.0" text-anchor="middle" textLength="10.5" lengthAdjust="spacingAndGlyphs" fill="#000">40</text>
<line x1="363.04" x2="363.04" y1="375.2" y2="379.2" stroke="#000" stroke-width="1.1"/>
<text x="363.04" y="390.7" font-size="10.0" text-anchor="middle" textLength="10.5" lengthAdjust="spacingAndGlyphs" fill="#000">44</text>
<line x1="388.71" x2="388.71" y1="375.2" y2="379.2" stroke="#000" stroke-width="1.1"/>
<text x="388.71" y="390.7" font-size="10.0" text-anchor="middle" textLength="10.5" lengthAdjust="spacingAndGlyphs" fill="#000">48</text>
<line x1="414.39" x2="414.39" y1="375.2" y2="379.2" stroke="#000" stroke-width="1.1"/>
<text x="414.39" y="390.7" font-size="10.0" text-anchor="middle" textLength="10.5" lengthAdjust="spacingAndGlyphs" fill="#000">52</text>
<line x1="440.06" x2="440.06" y1="375.2" y2="379.2" stroke="#000" stroke-width="1.1"/>
<text x="440.06" y="390.7" font-size="10.0" text-anchor="middle" textLength="10.5" lengthAdjust="spacingAndGlyphs" fill="#000">56</text>
<line x1="465.74" x2="465.74" y1="375.2" y2="379.2" stroke="#000" stroke-width="1.1"/>
<text x="465.74" y="390.7" font-size="10.0" text-anchor="middle" textLength="10.5" lengthAdjust="spacingAndGlyphs" fill="#000">60</text>
<line x1="491.42" x2="491.42" y1="375.2" y2="379.2" stroke="#000" stroke-width="1.1"/>
<text x="491.42" y="390.7" font-size="10.0" text-anchor="middle" textLength="10.5" lengthAdjust="spacingAndGlyphs" fill="#000">64</text>
<text x="286.2" y="406.6" font-size="12.0" text-anchor="middle" textLength="46" lengthAdjust="spacingAndGlyphs" fill="#111">Time (days)</text>
<rect x="222" y="417.8" width="13.3" height="12.7" fill="rgb(0,0,255)" fill-opacity="0.3"/>
<path d="M222,424.0h13.3M228.5,421.2v5.6" stroke="#0000ff" stroke-width="1.4" fill="none"/>
<text x="239.7" y="427.3" font-size="9.6" textLength="34.3" lengthAdjust="spacingAndGlyphs" fill="#000">Exposed</text>
<rect x="286.6" y="417.8" width="13.3" height="12.7" fill="rgb(255,0,0)" fill-opacity="0.3"/>
<path d="M286.6,424.0h13.3M293.1,421.2v5.6" stroke="#ff0000" stroke-width="1.4" fill="none"/>
<text x="304.8" y="427.3" font-size="9.6" textLength="45.0" lengthAdjust="spacingAndGlyphs" fill="#000">Unexposed</text>
<text x="285.9" y="454.3" font-size="11.7" text-anchor="middle" textLength="216.5" lengthAdjust="spacingAndGlyphs" fill="#000">Symptomatic, all hematologic malignancy</text>
<text x="0" y="0" font-size="12.2" text-anchor="middle" fill="#333" transform="translate(17.2,534.4) rotate(-90)" textLength="103.4" lengthAdjust="spacingAndGlyphs">Cumulative incidence (%)</text>
<g clip-path="url(#c1)"><clipPath id="bb1"><path d="M80.60,600.50H86.70V599.03H93.12V598.06H99.54V597.16H105.96V596.31H112.37V595.48H118.79V594.66H125.21V593.85H131.63V593.04H138.05V592.24H144.47V591.45H150.89V590.66H157.31V589.87H163.73V589.08H170.15V588.29H176.56V587.49H182.98V586.70H189.40V585.91H195.82V585.11H202.24V584.31H208.66V583.52H215.08V582.80H221.50V579.28H227.92V576.95H234.34V574.63H240.75V571.90H247.17V569.17H253.59V566.43H260.01V563.69H266.43V562.37H272.85V561.04H279.27V559.71H285.69V558.37H292.11V556.90H298.53V555.41H304.94V553.91H311.36V552.40H317.78V551.15H324.20V549.90H330.62V548.63H337.04V547.36H343.46V546.53H349.88V545.69H356.30V544.84H362.72V543.99H369.13V542.99H375.55V541.99H381.97V540.98H388.39V539.96H394.81V538.35H401.23V536.70H407.65V535.02H414.07V533.31H420.49V532.82H426.91V532.30H433.32V531.86H439.74V531.33H446.16V530.28H452.58V529.61H459.00V528.42H465.42V524.46H471.84V515.20H478.26V506.47H484.68V503.69H491.10V503.69H497.51V503.69H503.93V503.69H510.35V507.00H512.60V514.93H510.35V533.58H503.93V533.58H497.51V533.58H491.10V533.58H484.68V534.77H478.26V540.06H471.84V545.09H465.42V548.79H459.00V549.19H452.58V549.85H446.16V550.91H439.74V551.44H433.32V552.78H426.91V553.19H420.49V553.58H414.07V554.96H407.65V556.32H401.23V557.65H394.81V558.96H388.39V559.78H381.97V560.59H375.55V561.41H369.13V562.21H362.72V562.90H356.30V563.58H349.88V564.25H343.46V564.92H337.04V565.90H330.62V566.86H324.20V567.82H317.78V568.78H311.36V569.94H304.94V571.09H298.53V572.23H292.11V573.36H285.69V574.38H279.27V575.39H272.85V576.40H266.43V577.40H260.01V579.51H253.59V581.59H247.17V583.65H240.75V585.69H234.34V587.39H227.92V589.08H221.50V591.58H215.08V592.06H208.66V592.59H202.24V593.12H195.82V593.64H189.40V594.16H182.98V594.68H176.56V595.19H170.15V595.69H163.73V596.18H157.31V596.67H150.89V597.15H144.47V597.62H138.05V598.08H131.63V598.53H125.21V598.97H118.79V599.39H112.37V599.79H105.96V600.17H99.54V600.50H93.12V600.50H86.70V600.50H80.60Z"/></clipPath>
<path d="M80.60,600.50H86.70V599.03H93.12V598.06H99.54V597.16H105.96V596.31H112.37V595.48H118.79V594.66H125.21V593.85H131.63V593.04H138.05V592.24H144.47V591.45H150.89V590.66H157.31V589.87H163.73V589.08H170.15V588.29H176.56V587.49H182.98V586.70H189.40V585.91H195.82V585.11H202.24V584.31H208.66V583.52H215.08V582.80H221.50V579.28H227.92V576.95H234.34V574.63H240.75V571.90H247.17V569.17H253.59V566.43H260.01V563.69H266.43V562.37H272.85V561.04H279.27V559.71H285.69V558.37H292.11V556.90H298.53V555.41H304.94V553.91H311.36V552.40H317.78V551.15H324.20V549.90H330.62V548.63H337.04V547.36H343.46V546.53H349.88V545.69H356.30V544.84H362.72V543.99H369.13V542.99H375.55V541.99H381.97V540.98H388.39V539.96H394.81V538.35H401.23V536.70H407.65V535.02H414.07V533.31H420.49V532.82H426.91V532.30H433.32V531.86H439.74V531.33H446.16V530.28H452.58V529.61H459.00V528.42H465.42V524.46H471.84V515.20H478.26V506.47H484.68V503.69H491.10V503.69H497.51V503.69H503.93V503.69H510.35V507.00H512.60V514.93H510.35V533.58H503.93V533.58H497.51V533.58H491.10V533.58H484.68V534.77H478.26V540.06H471.84V545.09H465.42V548.79H459.00V549.19H452.58V549.85H446.16V550.91H439.74V551.44H433.32V552.78H426.91V553.19H420.49V553.58H414.07V554.96H407.65V556.32H401.23V557.65H394.81V558.96H388.39V559.78H381.97V560.59H375.55V561.41H369.13V562.21H362.72V562.90H356.30V563.58H349.88V564.25H343.46V564.92H337.04V565.90H330.62V566.86H324.20V567.82H317.78V568.78H311.36V569.94H304.94V571.09H298.53V572.23H292.11V573.36H285.69V574.38H279.27V575.39H272.85V576.40H266.43V577.40H260.01V579.51H253.59V581.59H247.17V583.65H240.75V585.69H234.34V587.39H227.92V589.08H221.50V591.58H215.08V592.06H208.66V592.59H202.24V593.12H195.82V593.64H189.40V594.16H182.98V594.68H176.56V595.19H170.15V595.69H163.73V596.18H157.31V596.67H150.89V597.15H144.47V597.62H138.05V598.08H131.63V598.53H125.21V598.97H118.79V599.39H112.37V599.79H105.96V600.17H99.54V600.50H93.12V600.50H86.70V600.50H80.60Z" fill="rgb(185,185,254)"/>
<path d="M80.60,600.50H86.70V598.53H93.12V597.17H99.54V595.91H105.96V594.69H112.37V593.12H118.79V591.57H125.21V590.04H131.63V588.51H138.05V587.37H144.47V586.24H150.89V585.10H157.31V583.97H163.73V583.61H170.15V581.02H176.56V578.45H182.98V577.92H189.40V577.58H195.82V577.25H202.24V575.64H208.66V574.82H215.08V574.26H221.50V573.70H227.92V571.87H234.34V569.14H240.75V567.84H247.17V566.54H253.59V565.23H260.01V563.91H266.43V562.84H272.85V561.77H279.27V560.70H285.69V559.63H292.11V559.07H298.53V558.52H304.94V557.95H311.36V557.39H317.78V557.23H324.20V557.06H330.62V556.90H337.04V556.74H343.46V556.60H349.88V556.46H356.30V556.31H362.72V556.17H369.13V556.02H375.55V555.88H381.97V555.73H388.39V555.58H394.81V555.43H401.23V555.28H407.65V555.12H414.07V554.96H420.49V553.13H426.91V551.17H433.32V550.51H439.74V547.07H446.16V545.22H452.58V544.56H459.00V542.97H465.42V541.12H471.84V539.40H478.26V530.80H484.68V527.89H491.10V527.89H497.51V527.89H503.93V527.89H510.35V527.89H512.60V552.76H510.35V552.76H503.93V552.76H497.51V552.76H491.10V552.76H484.68V553.82H478.26V557.92H471.84V559.11H465.42V560.16H459.00V560.96H452.58V561.09H446.16V562.94H439.74V566.38H433.32V568.08H426.91V569.55H420.49V570.94H414.07V571.06H407.65V571.18H401.23V571.30H394.81V571.41H388.39V571.53H381.97V571.64H375.55V571.75H369.13V571.87H362.72V571.98H356.30V572.09H349.88V572.20H343.46V572.31H337.04V572.40H330.62V572.48H324.20V572.57H317.78V572.65H311.36V573.05H304.94V573.46H298.53V573.85H292.11V574.25H285.69V575.06H279.27V575.86H272.85V576.66H266.43V577.46H260.01V578.45H253.59V579.44H247.17V580.41H240.75V581.38H234.34V583.45H227.92V584.81H221.50V585.20H215.08V585.59H208.66V586.18H202.24V587.36H195.82V587.58H189.40V587.80H182.98V588.17H176.56V590.04H170.15V591.89H163.73V592.12H157.31V592.90H150.89V593.67H144.47V594.43H138.05V595.19H131.63V596.18H125.21V597.14H118.79V598.07H112.37V598.96H105.96V599.59H99.54V600.16H93.12V600.50H86.70V600.50H80.60Z" fill="rgb(255,183,183)"/>
<path d="M80.60,600.50H86.70V598.53H93.12V597.17H99.54V595.91H105.96V594.69H112.37V593.12H118.79V591.57H125.21V590.04H131.63V588.51H138.05V587.37H144.47V586.24H150.89V585.10H157.31V583.97H163.73V583.61H170.15V581.02H176.56V578.45H182.98V577.92H189.40V577.58H195.82V577.25H202.24V575.64H208.66V574.82H215.08V574.26H221.50V573.70H227.92V571.87H234.34V569.14H240.75V567.84H247.17V566.54H253.59V565.23H260.01V563.91H266.43V562.84H272.85V561.77H279.27V560.70H285.69V559.63H292.11V559.07H298.53V558.52H304.94V557.95H311.36V557.39H317.78V557.23H324.20V557.06H330.62V556.90H337.04V556.74H343.46V556.60H349.88V556.46H356.30V556.31H362.72V556.17H369.13V556.02H375.55V555.88H381.97V555.73H388.39V555.58H394.81V555.43H401.23V555.28H407.65V555.12H414.07V554.96H420.49V553.13H426.91V551.17H433.32V550.51H439.74V547.07H446.16V545.22H452.58V544.56H459.00V542.97H465.42V541.12H471.84V539.40H478.26V530.80H484.68V527.89H491.10V527.89H497.51V527.89H503.93V527.89H510.35V527.89H512.60V552.76H510.35V552.76H503.93V552.76H497.51V552.76H491.10V552.76H484.68V553.82H478.26V557.92H471.84V559.11H465.42V560.16H459.00V560.96H452.58V561.09H446.16V562.94H439.74V566.38H433.32V568.08H426.91V569.55H420.49V570.94H414.07V571.06H407.65V571.18H401.23V571.30H394.81V571.41H388.39V571.53H381.97V571.64H375.55V571.75H369.13V571.87H362.72V571.98H356.30V572.09H349.88V572.20H343.46V572.31H337.04V572.40H330.62V572.48H324.20V572.57H317.78V572.65H311.36V573.05H304.94V573.46H298.53V573.85H292.11V574.25H285.69V575.06H279.27V575.86H272.85V576.66H266.43V577.46H260.01V578.45H253.59V579.44H247.17V580.41H240.75V581.38H234.34V583.45H227.92V584.81H221.50V585.20H215.08V585.59H208.66V586.18H202.24V587.36H195.82V587.58H189.40V587.80H182.98V588.17H176.56V590.04H170.15V591.89H163.73V592.12H157.31V592.90H150.89V593.67H144.47V594.43H138.05V595.19H131.63V596.18H125.21V597.14H118.79V598.07H112.37V598.96H105.96V599.59H99.54V600.16H93.12V600.50H86.70V600.50H80.60Z" fill="rgb(214,124,187)" clip-path="url(#bb1)"/>
<path d="M80.60,600.50H86.70V599.89H93.12V599.28H99.54V598.67H105.96V598.05H112.37V597.44H118.79V596.82H125.21V596.19H131.63V595.56H138.05V594.93H144.47V594.30H150.89V593.66H157.31V593.02H163.73V592.38H170.15V591.74H176.56V591.09H182.98V590.43H189.40V589.78H195.82V589.12H202.24V588.45H208.66V587.79H215.08V587.19H221.50V584.18H227.92V582.17H234.34V580.16H240.75V577.78H247.17V575.38H253.59V572.97H260.01V570.54H266.43V569.38H272.85V568.22H279.27V567.04H285.69V565.87H292.11V564.56H298.53V563.25H304.94V561.92H311.36V560.59H317.78V559.49H324.20V558.38H330.62V557.27H337.04V556.14H343.46V555.39H349.88V554.63H356.30V553.87H362.72V553.10H369.13V552.20H375.55V551.29H381.97V550.38H388.39V549.46H394.81V548.00H401.23V546.51H407.65V544.99H414.07V543.45H420.49V543.01H426.91V542.54H433.32V541.65H439.74V541.12H446.16V540.06H452.58V539.40H459.00V538.61H465.42V534.77H471.84V527.63H478.26V520.62H484.68V518.64H491.10V518.64H497.51V518.64H503.93V518.64H510.35V510.97H512.60" fill="none" stroke="#0000ff" stroke-width="1.8"/>
<path d="M86.70,596.99v5.8M93.12,596.38v5.8M99.54,595.77v5.8M105.96,595.15v5.8M112.37,594.54v5.8M118.79,593.92v5.8M125.21,593.29v5.8M131.63,592.66v5.8M138.05,592.03v5.8M144.47,591.40v5.8M150.89,590.76v5.8M157.31,590.12v5.8M163.73,589.48v5.8M170.15,588.84v5.8M176.56,588.19v5.8M182.98,587.53v5.8M189.40,586.88v5.8M195.82,586.22v5.8M202.24,585.55v5.8M208.66,584.89v5.8M215.08,584.29v5.8M221.50,581.28v5.8M227.92,579.27v5.8M234.34,577.26v5.8M240.75,574.88v5.8M247.17,572.48v5.8M253.59,570.07v5.8M260.01,567.64v5.8M266.43,566.48v5.8M272.85,565.32v5.8M279.27,564.14v5.8M285.69,562.97v5.8M292.11,561.66v5.8M298.53,560.35v5.8M304.94,559.02v5.8M311.36,557.69v5.8M317.78,556.59v5.8M324.20,555.48v5.8M330.62,554.37v5.8M337.04,553.24v5.8M343.46,552.49v5.8M349.88,551.73v5.8M356.30,550.97v5.8M362.72,550.20v5.8M369.13,549.30v5.8M375.55,548.39v5.8M381.97,547.48v5.8M388.39,546.56v5.8M394.81,545.10v5.8M401.23,543.61v5.8M407.65,542.09v5.8M414.07,540.55v5.8M420.49,540.11v5.8M426.91,539.64v5.8M433.32,538.75v5.8M439.74,538.22v5.8M446.16,537.16v5.8M452.58,536.50v5.8M459.00,535.71v5.8M465.42,531.87v5.8M471.84,524.73v5.8M478.26,517.72v5.8M484.68,515.74v5.8M491.10,515.74v5.8M497.51,515.74v5.8M503.93,515.74v5.8" fill="none" stroke="#0000ff" stroke-width="1.4"/>
<path d="M80.60,600.50H86.70V599.58H93.12V598.67H99.54V597.75H105.96V596.83H112.37V595.59H118.79V594.35H125.21V593.11H131.63V591.85H138.05V590.90H144.47V589.95H150.89V589.00H157.31V588.04H163.73V587.75H170.15V585.53H176.56V583.31H182.98V582.86H189.40V582.58H195.82V582.30H202.24V580.91H208.66V580.21H215.08V579.73H221.50V579.25H227.92V577.66H234.34V575.26H240.75V574.13H247.17V572.99H253.59V571.84H260.01V570.68H266.43V569.75H272.85V568.82H279.27V567.88H285.69V566.94H292.11V566.46H298.53V565.99H304.94V565.50H311.36V565.02H317.78V564.90H324.20V564.77H330.62V564.65H337.04V564.52H343.46V564.40H349.88V564.27H356.30V564.15H362.72V564.02H369.13V563.89H375.55V563.76H381.97V563.63H388.39V563.50H394.81V563.36H401.23V563.23H407.65V563.09H414.07V562.95H420.49V561.34H426.91V559.63H433.32V558.44H439.74V555.01H446.16V553.15H452.58V552.76H459.00V551.57H465.42V550.11H471.84V548.66H478.26V542.31H484.68V540.33H491.10V540.33H497.51V540.33H503.93V540.33H510.35V540.33H512.60" fill="none" stroke="#ff0000" stroke-width="1.8"/>
<path d="M86.70,596.68v5.8M93.12,595.77v5.8M99.54,594.85v5.8M105.96,593.93v5.8M112.37,592.69v5.8M118.79,591.45v5.8M125.21,590.21v5.8M131.63,588.95v5.8M138.05,588.00v5.8M144.47,587.05v5.8M150.89,586.10v5.8M157.31,585.14v5.8M163.73,584.85v5.8M170.15,582.63v5.8M176.56,580.41v5.8M182.98,579.96v5.8M189.40,579.68v5.8M195.82,579.40v5.8M202.24,578.01v5.8M208.66,577.31v5.8M215.08,576.83v5.8M221.50,576.35v5.8M227.92,574.76v5.8M234.34,572.36v5.8M240.75,571.23v5.8M247.17,570.09v5.8M253.59,568.94v5.8M260.01,567.78v5.8M266.43,566.85v5.8M272.85,565.92v5.8M279.27,564.98v5.8M285.69,564.04v5.8M292.11,563.56v5.8M298.53,563.09v5.8M304.94,562.60v5.8M311.36,562.12v5.8M317.78,562.00v5.8M324.20,561.87v5.8M330.62,561.75v5.8M337.04,561.62v5.8M343.46,561.50v5.8M349.88,561.37v5.8M356.30,561.25v5.8M362.72,561.12v5.8M369.13,560.99v5.8M375.55,560.86v5.8M381.97,560.73v5.8M388.39,560.60v5.8M394.81,560.46v5.8M401.23,560.33v5.8M407.65,560.19v5.8M414.07,560.05v5.8M420.49,558.44v5.8M426.91,556.73v5.8M433.32,555.54v5.8M439.74,552.11v5.8M446.16,550.25v5.8M452.58,549.86v5.8M459.00,548.67v5.8M465.42,547.21v5.8M471.84,545.76v5.8M478.26,539.41v5.8M484.68,537.43v5.8M491.10,537.43v5.8M497.51,537.43v5.8M503.93,537.43v5.8" fill="none" stroke="#ff0000" stroke-width="1.4"/>
</g><rect x="59.95" y="462.5" width="451.45" height="144.3" fill="none" stroke="#000" stroke-width="1.45"/>
<line x1="55.90" x2="59.35" y1="600.50" y2="600.50" stroke="#000" stroke-width="1.1"/>
<text x="52.2" y="604.00" font-size="10.2" text-anchor="end" textLength="27.6" lengthAdjust="spacingAndGlyphs" fill="#000">0.00%</text>
<line x1="55.90" x2="59.35" y1="567.44" y2="567.44" stroke="#000" stroke-width="1.1"/>
<text x="52.2" y="570.94" font-size="10.2" text-anchor="end" textLength="27.6" lengthAdjust="spacingAndGlyphs" fill="#000">0.25%</text>
<line x1="55.90" x2="59.35" y1="534.38" y2="534.38" stroke="#000" stroke-width="1.1"/>
<text x="52.2" y="537.88" font-size="10.2" text-anchor="end" textLength="27.6" lengthAdjust="spacingAndGlyphs" fill="#000">0.50%</text>
<line x1="55.90" x2="59.35" y1="501.31" y2="501.31" stroke="#000" stroke-width="1.1"/>
<text x="52.2" y="504.81" font-size="10.2" text-anchor="end" textLength="27.6" lengthAdjust="spacingAndGlyphs" fill="#000">0.75%</text>
<line x1="55.90" x2="59.35" y1="468.25" y2="468.25" stroke="#000" stroke-width="1.1"/>
<text x="52.2" y="471.75" font-size="10.2" text-anchor="end" textLength="27.6" lengthAdjust="spacingAndGlyphs" fill="#000">1.00%</text>
<line x1="80.60" x2="80.60" y1="606.8" y2="610.8" stroke="#000" stroke-width="1.1"/>
<text x="80.60" y="622.6" font-size="10.0" text-anchor="middle" textLength="5.25" lengthAdjust="spacingAndGlyphs" fill="#000">0</text>
<line x1="106.28" x2="106.28" y1="606.8" y2="610.8" stroke="#000" stroke-width="1.1"/>
<text x="106.28" y="622.6" font-size="10.0" text-anchor="middle" textLength="5.25" lengthAdjust="spacingAndGlyphs" fill="#000">4</text>
<line x1="131.95" x2="131.95" y1="606.8" y2="610.8" stroke="#000" stroke-width="1.1"/>
<text x="131.95" y="622.6" font-size="10.0" text-anchor="middle" textLength="5.25" lengthAdjust="spacingAndGlyphs" fill="#000">8</text>
<line x1="157.63" x2="157.63" y1="606.8" y2="610.8" stroke="#000" stroke-width="1.1"/>
<text x="157.63" y="622.6" font-size="10.0" text-anchor="middle" textLength="10.5" lengthAdjust="spacingAndGlyphs" fill="#000">12</text>
<line x1="183.30" x2="183.30" y1="606.8" y2="610.8" stroke="#000" stroke-width="1.1"/>
<text x="183.30" y="622.6" font-size="10.0" text-anchor="middle" textLength="10.5" lengthAdjust="spacingAndGlyphs" fill="#000">16</text>
<line x1="208.98" x2="208.98" y1="606.8" y2="610.8" stroke="#000" stroke-width="1.1"/>
<text x="208.98" y="622.6" font-size="10.0" text-anchor="middle" textLength="10.5" lengthAdjust="spacingAndGlyphs" fill="#000">20</text>
<line x1="234.66" x2="234.66" y1="606.8" y2="610.8" stroke="#000" stroke-width="1.1"/>
<text x="234.66" y="622.6" font-size="10.0" text-anchor="middle" textLength="10.5" lengthAdjust="spacingAndGlyphs" fill="#000">24</text>
<line x1="260.33" x2="260.33" y1="606.8" y2="610.8" stroke="#000" stroke-width="1.1"/>
<text x="260.33" y="622.6" font-size="10.0" text-anchor="middle" textLength="10.5" lengthAdjust="spacingAndGlyphs" fill="#000">28</text>
<line x1="286.01" x2="286.01" y1="606.8" y2="610.8" stroke="#000" stroke-width="1.1"/>
<text x="286.01" y="622.6" font-size="10.0" text-anchor="middle" textLength="10.5" lengthAdjust="spacingAndGlyphs" fill="#000">32</text>
<line x1="311.68" x2="311.68" y1="606.8" y2="610.8" stroke="#000" stroke-width="1.1"/>
<text x="311.68" y="622.6" font-size="10.0" text-anchor="middle" textLength="10.5" lengthAdjust="spacingAndGlyphs" fill="#000">36</text>
<line x1="337.36" x2="337.36" y1="606.8" y2="610.8" stroke="#000" stroke-width="1.1"/>
<text x="337.36" y="622.6" font-size="10.0" text-anchor="middle" textLength="10.5" lengthAdjust="spacingAndGlyphs" fill="#000">40</text>
<line x1="363.04" x2="363.04" y1="606.8" y2="610.8" stroke="#000" stroke-width="1.1"/>
<text x="363.04" y="622.6" font-size="10.0" text-anchor="middle" textLength="10.5" lengthAdjust="spacingAndGlyphs" fill="#000">44</text>
<line x1="388.71" x2="388.71" y1="606.8" y2="610.8" stroke="#000" stroke-width="1.1"/>
<text x="388.71" y="622.6" font-size="10.0" text-anchor="middle" textLength="10.5" lengthAdjust="spacingAndGlyphs" fill="#000">48</text>
<line x1="414.39" x2="414.39" y1="606.8" y2="610.8" stroke="#000" stroke-width="1.1"/>
<text x="414.39" y="622.6" font-size="10.0" text-anchor="middle" textLength="10.5" lengthAdjust="spacingAndGlyphs" fill="#000">52</text>
<line x1="440.06" x2="440.06" y1="606.8" y2="610.8" stroke="#000" stroke-width="1.1"/>
<text x="440.06" y="622.6" font-size="10.0" text-anchor="middle" textLength="10.5" lengthAdjust="spacingAndGlyphs" fill="#000">56</text>
<line x1="465.74" x2="465.74" y1="606.8" y2="610.8" stroke="#000" stroke-width="1.1"/>
<text x="465.74" y="622.6" font-size="10.0" text-anchor="middle" textLength="10.5" lengthAdjust="spacingAndGlyphs" fill="#000">60</text>
<line x1="491.42" x2="491.42" y1="606.8" y2="610.8" stroke="#000" stroke-width="1.1"/>
<text x="491.42" y="622.6" font-size="10.0" text-anchor="middle" textLength="10.5" lengthAdjust="spacingAndGlyphs" fill="#000">64</text>
<text x="286.2" y="638.8" font-size="12.0" text-anchor="middle" textLength="46" lengthAdjust="spacingAndGlyphs" fill="#111">Time (days)</text>
<text x="60.3" y="658.8" font-size="11.6" textLength="77.2" lengthAdjust="spacingAndGlyphs" fill="#000">Number at risk</text>
<rect x="60.65" y="664.1" width="450.75" height="46.5" fill="none" stroke="#000" stroke-width="1.45"/>
<line x1="56.4" x2="60" y1="676.3" y2="676.3" stroke="#000" stroke-width="1.1"/>
<line x1="56.4" x2="60" y1="698.0" y2="698.0" stroke="#000" stroke-width="1.1"/>
<text x="51.9" y="679.5" font-size="9.6" text-anchor="end" textLength="34.4" lengthAdjust="spacingAndGlyphs" fill="#1d5b98">Exposed</text>
<text x="51.9" y="701.2" font-size="9.6" text-anchor="end" textLength="45.6" lengthAdjust="spacingAndGlyphs" fill="#cf1f45">Unexposed</text>
<text x="80.60" y="679.3" font-size="8.7" text-anchor="middle" textLength="23.3" lengthAdjust="spacingAndGlyphs" fill="#000">32516</text>
<text x="80.60" y="701.0" font-size="8.7" text-anchor="middle" textLength="23.3" lengthAdjust="spacingAndGlyphs" fill="#000">32516</text>
<text x="106.28" y="679.3" font-size="8.7" text-anchor="middle" textLength="23.3" lengthAdjust="spacingAndGlyphs" fill="#000">32294</text>
<text x="106.28" y="701.0" font-size="8.7" text-anchor="middle" textLength="23.3" lengthAdjust="spacingAndGlyphs" fill="#000">32292</text>
<text x="131.95" y="679.3" font-size="8.7" text-anchor="middle" textLength="23.3" lengthAdjust="spacingAndGlyphs" fill="#000">31467</text>
<text x="131.95" y="701.0" font-size="8.7" text-anchor="middle" textLength="23.3" lengthAdjust="spacingAndGlyphs" fill="#000">31460</text>
<text x="157.63" y="679.3" font-size="8.7" text-anchor="middle" textLength="23.3" lengthAdjust="spacingAndGlyphs" fill="#000">30987</text>
<text x="157.63" y="701.0" font-size="8.7" text-anchor="middle" textLength="23.3" lengthAdjust="spacingAndGlyphs" fill="#000">30977</text>
<text x="183.30" y="679.3" font-size="8.7" text-anchor="middle" textLength="23.3" lengthAdjust="spacingAndGlyphs" fill="#000">30240</text>
<text x="183.30" y="701.0" font-size="8.7" text-anchor="middle" textLength="23.3" lengthAdjust="spacingAndGlyphs" fill="#000">30222</text>
<text x="208.98" y="679.3" font-size="8.7" text-anchor="middle" textLength="23.3" lengthAdjust="spacingAndGlyphs" fill="#000">29676</text>
<text x="208.98" y="701.0" font-size="8.7" text-anchor="middle" textLength="23.3" lengthAdjust="spacingAndGlyphs" fill="#000">29656</text>
<text x="234.66" y="679.3" font-size="8.7" text-anchor="middle" textLength="23.3" lengthAdjust="spacingAndGlyphs" fill="#000">29236</text>
<text x="234.66" y="701.0" font-size="8.7" text-anchor="middle" textLength="23.3" lengthAdjust="spacingAndGlyphs" fill="#000">29220</text>
<text x="260.33" y="679.3" font-size="8.7" text-anchor="middle" textLength="23.3" lengthAdjust="spacingAndGlyphs" fill="#000">28451</text>
<text x="260.33" y="701.0" font-size="8.7" text-anchor="middle" textLength="23.3" lengthAdjust="spacingAndGlyphs" fill="#000">28446</text>
<text x="286.01" y="679.3" font-size="8.7" text-anchor="middle" textLength="23.3" lengthAdjust="spacingAndGlyphs" fill="#000">27949</text>
<text x="286.01" y="701.0" font-size="8.7" text-anchor="middle" textLength="23.3" lengthAdjust="spacingAndGlyphs" fill="#000">27942</text>
<text x="311.68" y="679.3" font-size="8.7" text-anchor="middle" textLength="23.3" lengthAdjust="spacingAndGlyphs" fill="#000">27038</text>
<text x="311.68" y="701.0" font-size="8.7" text-anchor="middle" textLength="23.3" lengthAdjust="spacingAndGlyphs" fill="#000">27040</text>
<text x="337.36" y="679.3" font-size="8.7" text-anchor="middle" textLength="23.3" lengthAdjust="spacingAndGlyphs" fill="#000">26350</text>
<text x="337.36" y="701.0" font-size="8.7" text-anchor="middle" textLength="23.3" lengthAdjust="spacingAndGlyphs" fill="#000">26361</text>
<text x="363.04" y="679.3" font-size="8.7" text-anchor="middle" textLength="23.3" lengthAdjust="spacingAndGlyphs" fill="#000">25634</text>
<text x="363.04" y="701.0" font-size="8.7" text-anchor="middle" textLength="23.3" lengthAdjust="spacingAndGlyphs" fill="#000">25651</text>
<text x="388.71" y="679.3" font-size="8.7" text-anchor="middle" textLength="23.3" lengthAdjust="spacingAndGlyphs" fill="#000">25019</text>
<text x="388.71" y="701.0" font-size="8.7" text-anchor="middle" textLength="23.3" lengthAdjust="spacingAndGlyphs" fill="#000">25040</text>
<text x="414.39" y="679.3" font-size="8.7" text-anchor="middle" textLength="23.3" lengthAdjust="spacingAndGlyphs" fill="#000">23199</text>
<text x="414.39" y="701.0" font-size="8.7" text-anchor="middle" textLength="23.3" lengthAdjust="spacingAndGlyphs" fill="#000">23226</text>
<text x="440.06" y="679.3" font-size="8.7" text-anchor="middle" textLength="23.3" lengthAdjust="spacingAndGlyphs" fill="#000">17660</text>
<text x="440.06" y="701.0" font-size="8.7" text-anchor="middle" textLength="23.3" lengthAdjust="spacingAndGlyphs" fill="#000">17682</text>
<text x="465.74" y="679.3" font-size="8.7" text-anchor="middle" textLength="23.3" lengthAdjust="spacingAndGlyphs" fill="#000">12156</text>
<text x="465.74" y="701.0" font-size="8.7" text-anchor="middle" textLength="23.3" lengthAdjust="spacingAndGlyphs" fill="#000">12165</text>
<text x="491.42" y="679.3" font-size="8.7" text-anchor="middle" textLength="18.64" lengthAdjust="spacingAndGlyphs" fill="#000">4296</text>
<text x="491.42" y="701.0" font-size="8.7" text-anchor="middle" textLength="18.64" lengthAdjust="spacingAndGlyphs" fill="#000">4308</text>
<line x1="80.60" x2="80.60" y1="710.6" y2="714.6" stroke="#000" stroke-width="1.1"/>
<text x="80.60" y="726.3" font-size="10.0" text-anchor="middle" textLength="5.25" lengthAdjust="spacingAndGlyphs" fill="#000">0</text>
<line x1="106.28" x2="106.28" y1="710.6" y2="714.6" stroke="#000" stroke-width="1.1"/>
<text x="106.28" y="726.3" font-size="10.0" text-anchor="middle" textLength="5.25" lengthAdjust="spacingAndGlyphs" fill="#000">4</text>
<line x1="131.95" x2="131.95" y1="710.6" y2="714.6" stroke="#000" stroke-width="1.1"/>
<text x="131.95" y="726.3" font-size="10.0" text-anchor="middle" textLength="5.25" lengthAdjust="spacingAndGlyphs" fill="#000">8</text>
<line x1="157.63" x2="157.63" y1="710.6" y2="714.6" stroke="#000" stroke-width="1.1"/>
<text x="157.63" y="726.3" font-size="10.0" text-anchor="middle" textLength="10.5" lengthAdjust="spacingAndGlyphs" fill="#000">12</text>
<line x1="183.30" x2="183.30" y1="710.6" y2="714.6" stroke="#000" stroke-width="1.1"/>
<text x="183.30" y="726.3" font-size="10.0" text-anchor="middle" textLength="10.5" lengthAdjust="spacingAndGlyphs" fill="#000">16</text>
<line x1="208.98" x2="208.98" y1="710.6" y2="714.6" stroke="#000" stroke-width="1.1"/>
<text x="208.98" y="726.3" font-size="10.0" text-anchor="middle" textLength="10.5" lengthAdjust="spacingAndGlyphs" fill="#000">20</text>
<line x1="234.66" x2="234.66" y1="710.6" y2="714.6" stroke="#000" stroke-width="1.1"/>
<text x="234.66" y="726.3" font-size="10.0" text-anchor="middle" textLength="10.5" lengthAdjust="spacingAndGlyphs" fill="#000">24</text>
<line x1="260.33" x2="260.33" y1="710.6" y2="714.6" stroke="#000" stroke-width="1.1"/>
<text x="260.33" y="726.3" font-size="10.0" text-anchor="middle" textLength="10.5" lengthAdjust="spacingAndGlyphs" fill="#000">28</text>
<line x1="286.01" x2="286.01" y1="710.6" y2="714.6" stroke="#000" stroke-width="1.1"/>
<text x="286.01" y="726.3" font-size="10.0" text-anchor="middle" textLength="10.5" lengthAdjust="spacingAndGlyphs" fill="#000">32</text>
<line x1="311.68" x2="311.68" y1="710.6" y2="714.6" stroke="#000" stroke-width="1.1"/>
<text x="311.68" y="726.3" font-size="10.0" text-anchor="middle" textLength="10.5" lengthAdjust="spacingAndGlyphs" fill="#000">36</text>
<line x1="337.36" x2="337.36" y1="710.6" y2="714.6" stroke="#000" stroke-width="1.1"/>
<text x="337.36" y="726.3" font-size="10.0" text-anchor="middle" textLength="10.5" lengthAdjust="spacingAndGlyphs" fill="#000">40</text>
<line x1="363.04" x2="363.04" y1="710.6" y2="714.6" stroke="#000" stroke-width="1.1"/>
<text x="363.04" y="726.3" font-size="10.0" text-anchor="middle" textLength="10.5" lengthAdjust="spacingAndGlyphs" fill="#000">44</text>
<line x1="388.71" x2="388.71" y1="710.6" y2="714.6" stroke="#000" stroke-width="1.1"/>
<text x="388.71" y="726.3" font-size="10.0" text-anchor="middle" textLength="10.5" lengthAdjust="spacingAndGlyphs" fill="#000">48</text>
<line x1="414.39" x2="414.39" y1="710.6" y2="714.6" stroke="#000" stroke-width="1.1"/>
<text x="414.39" y="726.3" font-size="10.0" text-anchor="middle" textLength="10.5" lengthAdjust="spacingAndGlyphs" fill="#000">52</text>
<line x1="440.06" x2="440.06" y1="710.6" y2="714.6" stroke="#000" stroke-width="1.1"/>
<text x="440.06" y="726.3" font-size="10.0" text-anchor="middle" textLength="10.5" lengthAdjust="spacingAndGlyphs" fill="#000">56</text>
<line x1="465.74" x2="465.74" y1="710.6" y2="714.6" stroke="#000" stroke-width="1.1"/>
<text x="465.74" y="726.3" font-size="10.0" text-anchor="middle" textLength="10.5" lengthAdjust="spacingAndGlyphs" fill="#000">60</text>
<line x1="491.42" x2="491.42" y1="710.6" y2="714.6" stroke="#000" stroke-width="1.1"/>
<text x="491.42" y="726.3" font-size="10.0" text-anchor="middle" textLength="10.5" lengthAdjust="spacingAndGlyphs" fill="#000">64</text>
<text x="286.2" y="742.0" font-size="12.0" text-anchor="middle" textLength="46" lengthAdjust="spacingAndGlyphs" fill="#111">Time (days)</text>
<text x="60.0" y="760.7" font-size="11.6" textLength="155.3" lengthAdjust="spacingAndGlyphs" fill="#000">Cumulative number of events</text>
<rect x="60.65" y="765.6" width="450.75" height="46.60000000000002" fill="none" stroke="#000" stroke-width="1.45"/>
<line x1="56.4" x2="60" y1="778.2" y2="778.2" stroke="#000" stroke-width="1.1"/>
<line x1="56.4" x2="60" y1="799.8" y2="799.8" stroke="#000" stroke-width="1.1"/>
<text x="51.9" y="781.4" font-size="9.6" text-anchor="end" textLength="34.4" lengthAdjust="spacingAndGlyphs" fill="#1d5b98">Exposed</text>
<text x="51.9" y="803.0" font-size="9.6" text-anchor="end" textLength="45.6" lengthAdjust="spacingAndGlyphs" fill="#cf1f45">Unexposed</text>
<text x="80.60" y="780.9" font-size="9.5" text-anchor="middle" textLength="5.0" lengthAdjust="spacingAndGlyphs" fill="#000">0</text>
<text x="80.60" y="802.5" font-size="9.5" text-anchor="middle" textLength="5.0" lengthAdjust="spacingAndGlyphs" fill="#000">0</text>
<text x="106.28" y="780.9" font-size="9.5" text-anchor="middle" textLength="5.0" lengthAdjust="spacingAndGlyphs" fill="#000">6</text>
<text x="106.28" y="802.5" font-size="9.5" text-anchor="middle" textLength="5.0" lengthAdjust="spacingAndGlyphs" fill="#000">9</text>
<text x="131.95" y="780.9" font-size="9.5" text-anchor="middle" textLength="10.0" lengthAdjust="spacingAndGlyphs" fill="#000">12</text>
<text x="131.95" y="802.5" font-size="9.5" text-anchor="middle" textLength="10.0" lengthAdjust="spacingAndGlyphs" fill="#000">21</text>
<text x="157.63" y="780.9" font-size="9.5" text-anchor="middle" textLength="10.0" lengthAdjust="spacingAndGlyphs" fill="#000">18</text>
<text x="157.63" y="802.5" font-size="9.5" text-anchor="middle" textLength="10.0" lengthAdjust="spacingAndGlyphs" fill="#000">30</text>
<text x="183.30" y="780.9" font-size="9.5" text-anchor="middle" textLength="10.0" lengthAdjust="spacingAndGlyphs" fill="#000">24</text>
<text x="183.30" y="802.5" font-size="9.5" text-anchor="middle" textLength="10.0" lengthAdjust="spacingAndGlyphs" fill="#000">42</text>
<text x="208.98" y="780.9" font-size="9.5" text-anchor="middle" textLength="10.0" lengthAdjust="spacingAndGlyphs" fill="#000">30</text>
<text x="208.98" y="802.5" font-size="9.5" text-anchor="middle" textLength="10.0" lengthAdjust="spacingAndGlyphs" fill="#000">48</text>
<text x="234.66" y="780.9" font-size="9.5" text-anchor="middle" textLength="10.0" lengthAdjust="spacingAndGlyphs" fill="#000">47</text>
<text x="234.66" y="802.5" font-size="9.5" text-anchor="middle" textLength="10.0" lengthAdjust="spacingAndGlyphs" fill="#000">59</text>
<text x="260.33" y="780.9" font-size="9.5" text-anchor="middle" textLength="10.0" lengthAdjust="spacingAndGlyphs" fill="#000">68</text>
<text x="260.33" y="802.5" font-size="9.5" text-anchor="middle" textLength="10.0" lengthAdjust="spacingAndGlyphs" fill="#000">69</text>
<text x="286.01" y="780.9" font-size="9.5" text-anchor="middle" textLength="10.0" lengthAdjust="spacingAndGlyphs" fill="#000">78</text>
<text x="286.01" y="802.5" font-size="9.5" text-anchor="middle" textLength="10.0" lengthAdjust="spacingAndGlyphs" fill="#000">77</text>
<text x="311.68" y="780.9" font-size="9.5" text-anchor="middle" textLength="10.0" lengthAdjust="spacingAndGlyphs" fill="#000">89</text>
<text x="311.68" y="802.5" font-size="9.5" text-anchor="middle" textLength="10.0" lengthAdjust="spacingAndGlyphs" fill="#000">81</text>
<text x="337.36" y="780.9" font-size="9.5" text-anchor="middle" textLength="10.0" lengthAdjust="spacingAndGlyphs" fill="#000">98</text>
<text x="337.36" y="802.5" font-size="9.5" text-anchor="middle" textLength="10.0" lengthAdjust="spacingAndGlyphs" fill="#000">82</text>
<text x="363.04" y="780.9" font-size="9.5" text-anchor="middle" textLength="15.0" lengthAdjust="spacingAndGlyphs" fill="#000">104</text>
<text x="363.04" y="802.5" font-size="9.5" text-anchor="middle" textLength="10.0" lengthAdjust="spacingAndGlyphs" fill="#000">83</text>
<text x="388.71" y="780.9" font-size="9.5" text-anchor="middle" textLength="15.0" lengthAdjust="spacingAndGlyphs" fill="#000">111</text>
<text x="388.71" y="802.5" font-size="9.5" text-anchor="middle" textLength="10.0" lengthAdjust="spacingAndGlyphs" fill="#000">84</text>
<text x="414.39" y="780.9" font-size="9.5" text-anchor="middle" textLength="15.0" lengthAdjust="spacingAndGlyphs" fill="#000">122</text>
<text x="414.39" y="802.5" font-size="9.5" text-anchor="middle" textLength="10.0" lengthAdjust="spacingAndGlyphs" fill="#000">85</text>
<text x="440.06" y="780.9" font-size="9.5" text-anchor="middle" textLength="15.0" lengthAdjust="spacingAndGlyphs" fill="#000">125</text>
<text x="440.06" y="802.5" font-size="9.5" text-anchor="middle" textLength="10.0" lengthAdjust="spacingAndGlyphs" fill="#000">96</text>
<text x="465.74" y="780.9" font-size="9.5" text-anchor="middle" textLength="15.0" lengthAdjust="spacingAndGlyphs" fill="#000">131</text>
<text x="465.74" y="802.5" font-size="9.5" text-anchor="middle" textLength="15.0" lengthAdjust="spacingAndGlyphs" fill="#000">101</text>
<text x="491.42" y="780.9" font-size="9.5" text-anchor="middle" textLength="15.0" lengthAdjust="spacingAndGlyphs" fill="#000">142</text>
<text x="491.42" y="802.5" font-size="9.5" text-anchor="middle" textLength="15.0" lengthAdjust="spacingAndGlyphs" fill="#000">107</text>
<line x1="80.60" x2="80.60" y1="812.2" y2="816.2" stroke="#000" stroke-width="1.1"/>
<text x="80.60" y="827.7" font-size="10.0" text-anchor="middle" textLength="5.25" lengthAdjust="spacingAndGlyphs" fill="#000">0</text>
<line x1="106.28" x2="106.28" y1="812.2" y2="816.2" stroke="#000" stroke-width="1.1"/>
<text x="106.28" y="827.7" font-size="10.0" text-anchor="middle" textLength="5.25" lengthAdjust="spacingAndGlyphs" fill="#000">4</text>
<line x1="131.95" x2="131.95" y1="812.2" y2="816.2" stroke="#000" stroke-width="1.1"/>
<text x="131.95" y="827.7" font-size="10.0" text-anchor="middle" textLength="5.25" lengthAdjust="spacingAndGlyphs" fill="#000">8</text>
<line x1="157.63" x2="157.63" y1="812.2" y2="816.2" stroke="#000" stroke-width="1.1"/>
<text x="157.63" y="827.7" font-size="10.0" text-anchor="middle" textLength="10.5" lengthAdjust="spacingAndGlyphs" fill="#000">12</text>
<line x1="183.30" x2="183.30" y1="812.2" y2="816.2" stroke="#000" stroke-width="1.1"/>
<text x="183.30" y="827.7" font-size="10.0" text-anchor="middle" textLength="10.5" lengthAdjust="spacingAndGlyphs" fill="#000">16</text>
<line x1="208.98" x2="208.98" y1="812.2" y2="816.2" stroke="#000" stroke-width="1.1"/>
<text x="208.98" y="827.7" font-size="10.0" text-anchor="middle" textLength="10.5" lengthAdjust="spacingAndGlyphs" fill="#000">20</text>
<line x1="234.66" x2="234.66" y1="812.2" y2="816.2" stroke="#000" stroke-width="1.1"/>
<text x="234.66" y="827.7" font-size="10.0" text-anchor="middle" textLength="10.5" lengthAdjust="spacingAndGlyphs" fill="#000">24</text>
<line x1="260.33" x2="260.33" y1="812.2" y2="816.2" stroke="#000" stroke-width="1.1"/>
<text x="260.33" y="827.7" font-size="10.0" text-anchor="middle" textLength="10.5" lengthAdjust="spacingAndGlyphs" fill="#000">28</text>
<line x1="286.01" x2="286.01" y1="812.2" y2="816.2" stroke="#000" stroke-width="1.1"/>
<text x="286.01" y="827.7" font-size="10.0" text-anchor="middle" textLength="10.5" lengthAdjust="spacingAndGlyphs" fill="#000">32</text>
<line x1="311.68" x2="311.68" y1="812.2" y2="816.2" stroke="#000" stroke-width="1.1"/>
<text x="311.68" y="827.7" font-size="10.0" text-anchor="middle" textLength="10.5" lengthAdjust="spacingAndGlyphs" fill="#000">36</text>
<line x1="337.36" x2="337.36" y1="812.2" y2="816.2" stroke="#000" stroke-width="1.1"/>
<text x="337.36" y="827.7" font-size="10.0" text-anchor="middle" textLength="10.5" lengthAdjust="spacingAndGlyphs" fill="#000">40</text>
<line x1="363.04" x2="363.04" y1="812.2" y2="816.2" stroke="#000" stroke-width="1.1"/>
<text x="363.04" y="827.7" font-size="10.0" text-anchor="middle" textLength="10.5" lengthAdjust="spacingAndGlyphs" fill="#000">44</text>
<line x1="388.71" x2="388.71" y1="812.2" y2="816.2" stroke="#000" stroke-width="1.1"/>
<text x="388.71" y="827.7" font-size="10.0" text-anchor="middle" textLength="10.5" lengthAdjust="spacingAndGlyphs" fill="#000">48</text>
<line x1="414.39" x2="414.39" y1="812.2" y2="816.2" stroke="#000" stroke-width="1.1"/>
<text x="414.39" y="827.7" font-size="10.0" text-anchor="middle" textLength="10.5" lengthAdjust="spacingAndGlyphs" fill="#000">52</text>
<line x1="440.06" x2="440.06" y1="812.2" y2="816.2" stroke="#000" stroke-width="1.1"/>
<text x="440.06" y="827.7" font-size="10.0" text-anchor="middle" textLength="10.5" lengthAdjust="spacingAndGlyphs" fill="#000">56</text>
<line x1="465.74" x2="465.74" y1="812.2" y2="816.2" stroke="#000" stroke-width="1.1"/>
<text x="465.74" y="827.7" font-size="10.0" text-anchor="middle" textLength="10.5" lengthAdjust="spacingAndGlyphs" fill="#000">60</text>
<line x1="491.42" x2="491.42" y1="812.2" y2="816.2" stroke="#000" stroke-width="1.1"/>
<text x="491.42" y="827.7" font-size="10.0" text-anchor="middle" textLength="10.5" lengthAdjust="spacingAndGlyphs" fill="#000">64</text>
<text x="286.2" y="843.6" font-size="12.0" text-anchor="middle" textLength="46" lengthAdjust="spacingAndGlyphs" fill="#111">Time (days)</text>
<rect x="222" y="854.8" width="13.3" height="12.7" fill="rgb(0,0,255)" fill-opacity="0.3"/>
<path d="M222,861.0h13.3M228.5,858.1999999999999v5.6" stroke="#0000ff" stroke-width="1.4" fill="none"/>
<text x="239.7" y="864.3" font-size="9.6" textLength="34.3" lengthAdjust="spacingAndGlyphs" fill="#000">Exposed</text>
<rect x="286.6" y="854.8" width="13.3" height="12.7" fill="rgb(255,0,0)" fill-opacity="0.3"/>
<path d="M286.6,861.0h13.3M293.1,858.1999999999999v5.6" stroke="#ff0000" stroke-width="1.4" fill="none"/>
<text x="304.8" y="864.3" font-size="9.6" textLength="45.0" lengthAdjust="spacingAndGlyphs" fill="#000">Unexposed</text>

</svg>
</body></html>
